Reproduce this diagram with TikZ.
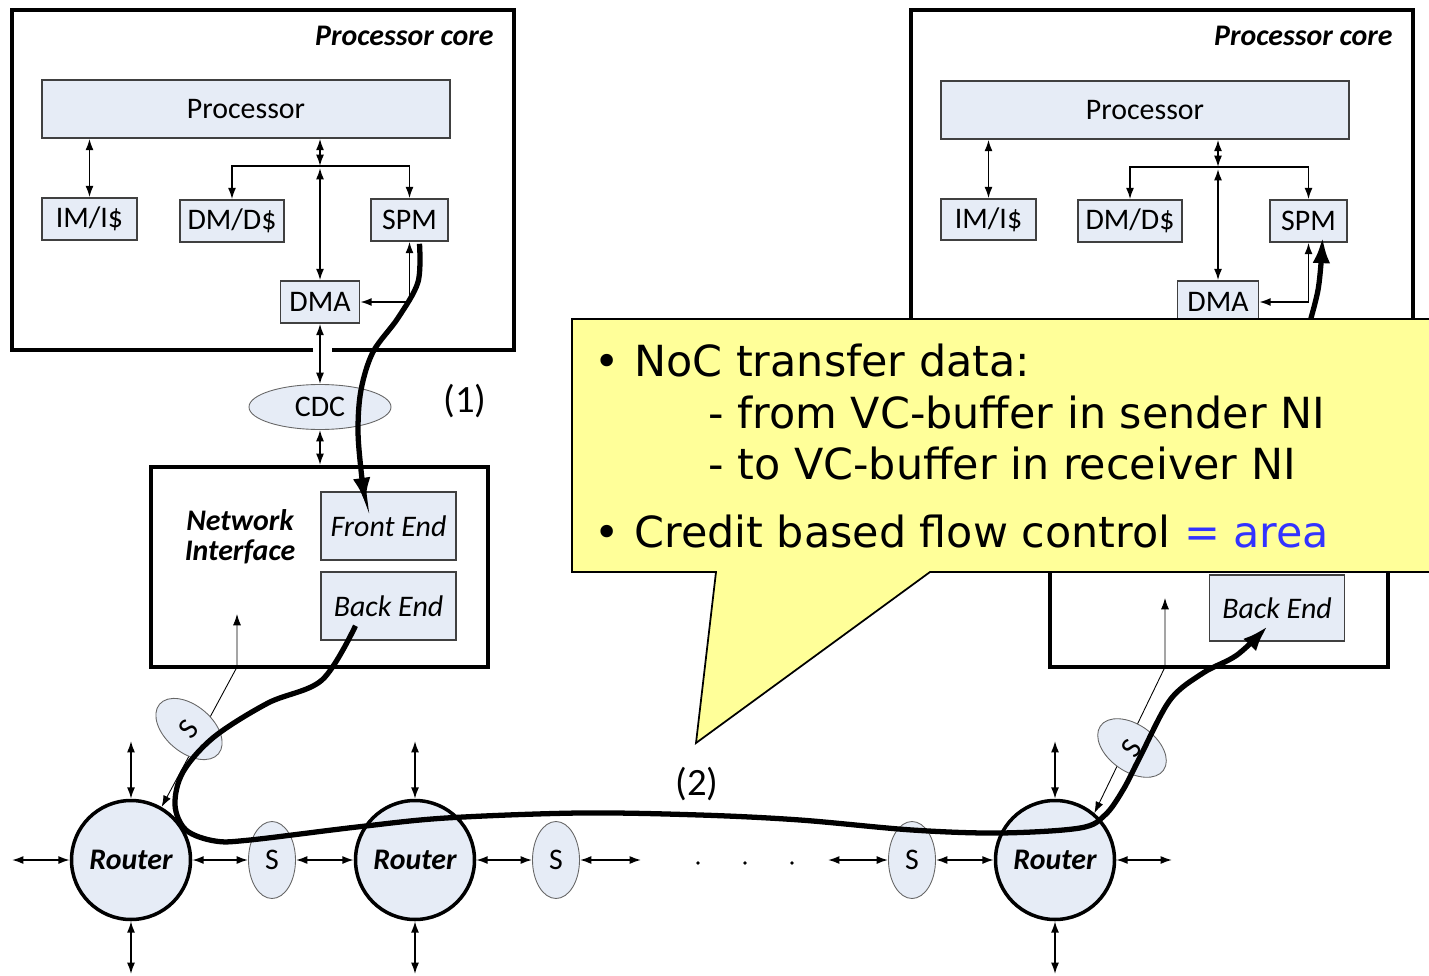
\documentclass[tikz,border=0pt]{standalone}
\usepackage{fontspec}
\setmainfont{Carlito}
\newfontfamily\calloutfont{DejaVu Sans}
\usetikzlibrary{arrows.meta,shapes.geometric}

\definecolor{blkfill}{RGB}{230,236,246}
\definecolor{noteyellow}{RGB}{255,255,153}
\definecolor{noteblue}{RGB}{51,51,255}

\newlength\upx
\setlength\upx{0.02cm}

\begin{document}
\begin{tikzpicture}[x=0.02cm, y=-0.02cm,
  >={Latex[length=6.5pt,width=4.6pt]},
  blk/.style={draw=black!75, fill=blkfill, line width=0.9pt, inner sep=0pt,
    font=\fontsize{17}{20}\selectfont},
  blkit/.style={blk, font=\fontsize{17}{20}\selectfont\itshape},
  tileframe/.style={draw, line width=2.3pt, inner sep=0pt},
  corelbl/.style={font=\fontsize{17}{20}\selectfont\bfseries\itshape, inner sep=0pt},
  router/.style={circle, draw, line width=2pt, fill=blkfill, inner sep=0pt,
    minimum size=119\upx, font=\fontsize{17}{20}\selectfont\bfseries\itshape},
  snode/.style={ellipse, draw=black!60, line width=0.5pt, fill=blkfill, inner sep=0pt,
    minimum width=47\upx, minimum height=77\upx, font=\fontsize{17}{20}\selectfont},
  link/.style={<->, line width=0.95pt},
  arr/.style={->, line width=0.95pt},
  thinlink/.style={<->, line width=0.5pt},
  flow/.style={line width=3pt, -{Latex[length=15pt,width=10pt]}},
  note/.style={font=\calloutfont\fontsize{24.4}{28}\selectfont, inner sep=0pt, anchor=base west},
  numlbl/.style={font=\fontsize{22}{24}\selectfont, inner sep=0pt}]
\useasboundingbox (0,0) rectangle (1429,976);

% left processor core
\draw[tileframe] (313,350) -| (12,10) -| (514,350) -- (332,350);
\node[corelbl, anchor=east] (coreLlbl) at (494,36) {Processor core};
\node[blk, minimum width=408\upx, minimum height=58\upx] (procL) at (246,109) {Processor};
\node[blk, minimum width=95\upx, minimum height=42\upx] (imL) at (89.5,219) {IM/I\$};
\node[blk, minimum width=104\upx, minimum height=42\upx] (dmL) at (232,221) {DM/D\$};
\node[blk, minimum width=77\upx, minimum height=42\upx] (spmL) at (409.5,220) {SPM};
\node[blk, minimum width=79\upx, minimum height=42\upx] (dmaL) at (320,302) {DMA};
\coordinate (busL) at (320,166);
\draw[link] (procL.south -| imL) -- (imL.north);
\draw[link] (procL.south -| busL) -- (busL);
\draw[arr] (busL) -| (dmL.north);
\draw[arr] (busL) -| (spmL.north);
\draw[link] ([shift={(0,2)}]busL) -- (dmaL.north);
\draw[link] (dmaL.east) -| (spmL.south);

% clock domain crossing and network interface
\node[snode, minimum width=142\upx, minimum height=45\upx] (cdc) at (320,407) {CDC};
\node[tileframe, minimum width=337\upx, minimum height=200\upx] (niL) at (319.5,567) {};
\node[corelbl, align=center, font=\fontsize{17}{17}\selectfont\bfseries\itshape] (niLlbl) at (240,537) {Network\\Interface};
\node[blkit, minimum width=135\upx, minimum height=68\upx] (feL) at (388.5,526) {Front End};
\node[blkit, minimum width=135\upx, minimum height=68\upx] (beL) at (388.5,606) {Back End};
\draw[link] (dmaL.south) -- (cdc.north);
\draw[link] (cdc.south) -- (cdc.south |- niL.north);
\node[numlbl] (lbl1) at (465,401) {(1)};

% right processor core
\draw[tileframe] (911,10) rectangle (1413,350);
\node[corelbl, anchor=east] (coreRlbl) at (1393,36) {Processor core};
\node[blk, minimum width=408\upx, minimum height=58\upx] (procR) at (1145,110) {Processor};
\node[blk, minimum width=95\upx, minimum height=41\upx] (imR) at (988.5,219.5) {IM/I\$};
\node[blk, minimum width=104\upx, minimum height=42\upx] (dmR) at (1130,221) {DM/D\$};
\node[blk, minimum width=77\upx, minimum height=42\upx] (spmR) at (1308.5,221) {SPM};
\node[blk, minimum width=81\upx, minimum height=42\upx] (dmaR) at (1218,302) {DMA};
\coordinate (busR) at (1218,167);
\draw[link] (procR.south -| imR) -- (imR.north);
\draw[link] (procR.south -| busR) -- (busR);
\draw[arr] (busR) -| (dmR.north);
\draw[arr] (busR) -| (spmR.north);
\draw[link] ([shift={(0,2)}]busR) -- (dmaR.north);
\draw[link] (dmaR.east) -| (spmR.south);
\node[tileframe, minimum width=338\upx, minimum height=200\upx] (niR) at (1219,567) {};
\node[blkit, minimum width=135\upx, minimum height=66\upx] (beR) at (1277,608) {Back End};

% routers and switches
\node[router] (r1) at (131,860) {Router};
\node[router] (r2) at (415,860) {Router};
\node[router] (r3) at (1055,860) {Router};

\coordinate (niLin) at (237,667);
\coordinate (niLup) at (237,614);
\draw[thinlink] (r1.60) -- (niLin) -- (niLup);
\coordinate (niRin) at (1165,667);
\coordinate (niRup) at (1165,598);
\draw[thinlink] (r3.50) -- (niRin) -- (niRup);

\node[snode] (s1) at (272,860) {S};
\node[snode] (s2) at (556,860) {S};
\node[snode] (s3) at (912,860) {S};
\node[snode, rotate=50] (sL) at (189,729) {S};
\node[snode, rotate=55] (sR) at (1132,748) {S};

\coordinate (westend) at (12,860);
\coordinate (s2out) at (641,860);
\coordinate (s3in) at (828,860);
\coordinate (eastend) at (1172,860);
\draw[link] (westend) -- (r1.west);
\draw[link] (r1.east) -- (s1.west);
\draw[link] (s1.east) -- (r2.west);
\draw[link] (r2.east) -- (s2.west);
\draw[link] (s2.east) -- (s2out);
\draw[link] (s3in) -- (s3.west);
\draw[link] (s3.east) -- (r3.west);
\draw[link] (r3.east) -- (eastend);
\foreach \r/\x in {r1/131, r2/415, r3/1055} {
  \coordinate (\r-up) at (\x,741);
  \coordinate (\r-down) at (\x,974);
  \draw[link] (\r.north) -- (\r-up);
  \draw[link] (\r.south) -- (\r-down);
}
\foreach \x in {698,745,792}
  \fill (\x,863) circle (1.8);
\node[numlbl] (lbl2) at (697,784) {(2)};

% data paths
\coordinate (flow1a) at ([shift={(10,2)}]spmL.south);
\coordinate (flow1b) at ([shift={(-23,13)}]feL.north);
\draw[flow] plot[smooth, tension=0.55] coordinates {(flow1a) (418,282) (398,318) (373,352) (361,390) (358,430) (361,470) (flow1b)};
\coordinate (flow2a) at ([shift={(-33,-15)}]beL.south);
\coordinate (flow2b) at ([shift={(-9,-16)}]beR.south);
\draw[flow] plot[smooth, tension=0.55] coordinates {(flow2a) (322,680) (268,703) (214,737) (183,772) (175,805) (186,830) (215,841) (250,840) (357,827) (446,818) (580,813) (700,815) (800,820) (912,830) (1000,833) (1080,828) (1105,815) (1123,790) (1140,757) (1170,700) (1203,673) (1237,655) (flow2b)};
\coordinate (flow3a) at (1303,345);
\coordinate (flow3b) at ([shift={(14,-6)}]spmR.south);
\draw[flow] plot[smooth, tension=0.55] coordinates {(flow3a) (1318,290) (flow3b)};

% callout
\draw[line width=1pt, fill=noteyellow] (1429,319) -- (572,319) -- (572,572) -- (716,572) -- (696,743) -- (930,572) -- (1429,572);
\node[note] (b1) at (594,377) {\textbullet};
\node[note] (noc) at (634,377) {NoC transfer data:};
\node[note] (from) at (708,428) {- from VC-buffer in sender NI};
\node[note] (to) at (708,479) {- to VC-buffer in receiver NI};
\node[note] (b2) at (594,547) {\textbullet};
\node[note] (credit) at (634,547) {Credit based flow control \textcolor{noteblue}{= area}};
\end{tikzpicture}
\end{document}
